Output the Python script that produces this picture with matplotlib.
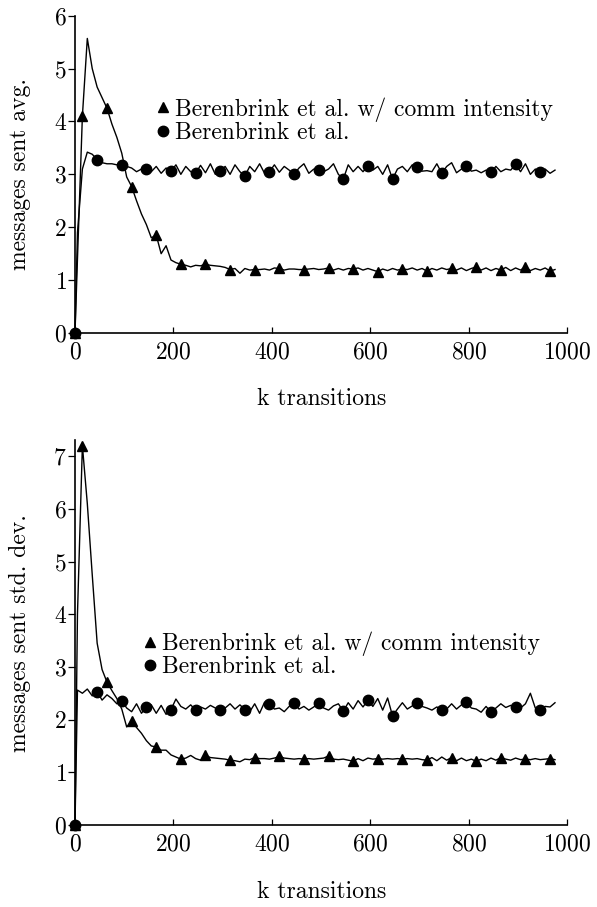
import numpy as np
import matplotlib
matplotlib.use("Agg")
import matplotlib.pyplot as plt
from matplotlib.lines import Line2D

plt.rcParams["font.family"] = ["cmr10", "DejaVu Serif"]
plt.rcParams["axes.formatter.use_mathtext"] = True
plt.rcParams["mathtext.fontset"] = "cm"

# sample grid (k transitions): 0, then every 10 starting at 5
x = np.concatenate(([0], np.arange(5, 985, 10)))

# messages sent avg.
avg_ci = [0, 1.4, 4.10, 5.57, 5.00, 4.65, 4.45, 4.25, 3.95, 3.70, 3.40, 2.95,
          2.77, 2.50, 2.25, 2.05, 1.80, 1.85, 1.50, 1.65, 1.38, 1.33, 1.30, 1.28,
          1.25, 1.28, 1.27, 1.30, 1.28, 1.27, 1.26, 1.24, 1.20, 1.22, 1.13, 1.22,
          1.19, 1.20, 1.20, 1.21, 1.19, 1.23, 1.22, 1.19, 1.21, 1.21, 1.20, 1.20,
          1.21, 1.22, 1.20, 1.21, 1.23, 1.19, 1.22, 1.19, 1.22, 1.21, 1.23, 1.19,
          1.22, 1.19, 1.16, 1.21, 1.18, 1.22, 1.19, 1.21, 1.20, 1.23, 1.19, 1.22,
          1.17, 1.22, 1.19, 1.23, 1.20, 1.22, 1.19, 1.23, 1.18, 1.22, 1.25, 1.19,
          1.23, 1.18, 1.22, 1.19, 1.24, 1.18, 1.23, 1.19, 1.25, 1.18, 1.22, 1.19,
          1.23, 1.17, 1.20]
avg = [0, 1.9, 3.10, 3.42, 3.38, 3.28, 3.22, 3.20, 3.20, 3.18, 3.18, 3.15,
       3.12, 3.05, 3.10, 3.10, 3.05, 3.15, 3.02, 3.12, 3.06, 3.18, 3.00, 3.15,
       3.05, 3.02, 3.17, 3.03, 3.20, 3.00, 3.07, 3.15, 3.00, 3.18, 3.05, 2.97,
       3.15, 3.05, 3.20, 3.02, 3.05, 3.18, 3.04, 3.15, 3.08, 3.00, 3.12, 3.20,
       3.02, 3.10, 3.08, 3.05, 3.10, 3.20, 3.00, 2.91, 3.18, 3.05, 3.15, 3.05,
       3.16, 3.08, 3.15, 3.00, 3.18, 2.91, 3.10, 3.15, 3.05, 3.18, 3.13, 3.06,
       3.07, 3.05, 3.20, 3.02, 3.15, 3.22, 3.03, 3.10, 3.16, 3.06, 3.08, 3.03,
       3.08, 3.04, 3.15, 3.05, 3.10, 3.08, 3.19, 3.05, 3.20, 3.00, 3.10, 3.05,
       3.10, 3.02, 3.08]

# messages sent std. dev.
std_ci = [0, 4.0, 7.20, 6.10, 4.75, 3.45, 2.95, 2.71, 2.55, 2.40, 2.20, 1.86,
          1.97, 1.85, 1.74, 1.60, 1.50, 1.48, 1.42, 1.42, 1.33, 1.29, 1.25, 1.27,
          1.32, 1.26, 1.23, 1.32, 1.28, 1.27, 1.26, 1.25, 1.23, 1.22, 1.20, 1.25,
          1.24, 1.28, 1.26, 1.26, 1.25, 1.27, 1.30, 1.27, 1.26, 1.25, 1.26, 1.25,
          1.26, 1.25, 1.26, 1.27, 1.31, 1.25, 1.24, 1.25, 1.23, 1.21, 1.26, 1.22,
          1.27, 1.25, 1.26, 1.25, 1.26, 1.25, 1.26, 1.25, 1.26, 1.25, 1.26, 1.24,
          1.23, 1.28, 1.22, 1.29, 1.23, 1.28, 1.22, 1.27, 1.22, 1.25, 1.21, 1.25,
          1.22, 1.27, 1.23, 1.28, 1.25, 1.23, 1.27, 1.24, 1.25, 1.24, 1.26, 1.24,
          1.25, 1.26, 1.24]
std = [0, 2.56, 2.50, 2.58, 2.45, 2.53, 2.37, 2.47, 2.40, 2.30, 2.36, 2.22,
       2.15, 2.30, 2.12, 2.24, 2.28, 2.12, 2.27, 2.10, 2.19, 2.39, 2.25, 2.20,
       2.28, 2.18, 2.24, 2.20, 2.27, 2.22, 2.18, 2.22, 2.30, 2.20, 2.28, 2.19,
       2.15, 2.30, 2.12, 2.33, 2.30, 2.20, 2.22, 2.15, 2.25, 2.32, 2.20, 2.25,
       2.18, 2.24, 2.32, 2.22, 2.18, 2.26, 2.30, 2.16, 2.32, 2.20, 2.36, 2.24,
       2.37, 2.25, 2.40, 2.18, 2.41, 2.07, 2.20, 2.32, 2.20, 2.26, 2.32, 2.25,
       2.22, 2.18, 2.24, 2.19, 2.20, 2.30, 2.20, 2.28, 2.34, 2.22, 2.20, 2.14,
       2.25, 2.14, 2.22, 2.30, 2.23, 2.27, 2.23, 2.22, 2.30, 2.50, 2.22, 2.19,
       2.25, 2.24, 2.32]

labels = ["Berenbrink et al. w/ comm intensity", "Berenbrink et al."]
xticks = [0, 200, 400, 600, 800, 1000]

tri_marks = [0] + list(range(2, len(x), 5))
circ_marks = [0] + list(range(5, len(x), 5))

fs = 17
W, H = 597, 907
fig = plt.figure(figsize=(W / 100, H / 100), dpi=100)

ax1 = fig.add_axes([75 / W, 1 - 333 / H, 492.3 / W, 317.3 / H])
ax2 = fig.add_axes([75 / W, 1 - 825 / H, 492.3 / W, 384.7 / H])


def style(ax, ci, base, ymax, yticks, ylabel, xlab_y, leg_left, leg_mid):
    ax.plot(x, ci, color="black", lw=1.0, marker="^", ms=7.5,
            markevery=tri_marks, clip_on=False, zorder=3)
    ax.plot(x, base, color="black", lw=1.0, marker="o", ms=7.5,
            markevery=circ_marks, clip_on=False, zorder=4)
    ax.set_xlim(0, 1000)
    ax.set_ylim(0, ymax)
    ax.set_xticks(xticks)
    ax.set_yticks(yticks)
    for s in ["top", "right"]:
        ax.spines[s].set_visible(False)
    for s in ["left", "bottom"]:
        ax.spines[s].set_linewidth(1.2)
    ax.tick_params(axis="x", direction="in", length=4, width=0.9,
                   labelsize=fs, pad=6)
    ax.tick_params(axis="y", direction="out", length=5, width=0.9,
                   labelsize=fs, pad=1)
    ax.set_xlabel("k transitions", fontsize=fs)
    ax.set_ylabel(ylabel, fontsize=fs)
    ax.xaxis.set_label_coords(0.5, xlab_y)
    ax.yaxis.set_label_coords(-0.09, 0.5)
    handles = [Line2D([], [], color="black", marker="^", ms=7.5, ls="none"),
               Line2D([], [], color="black", marker="o", ms=7.5, ls="none")]
    ax.legend(handles, labels, loc="center left", frameon=False,
              fontsize=fs, handlelength=0.8, handletextpad=0.1,
              borderpad=0, borderaxespad=0, labelspacing=0.0,
              bbox_to_anchor=(leg_left / W, 1 - leg_mid / H),
              bbox_transform=fig.transFigure)


style(ax1, avg_ci, avg, 6, range(0, 7), "messages sent avg.", -0.173, 154, 120.5)
style(ax2, std_ci, std, 7.3, range(0, 8), "messages sent std. dev.", -0.146, 141, 655)

fig.savefig("out.png", dpi=100)
